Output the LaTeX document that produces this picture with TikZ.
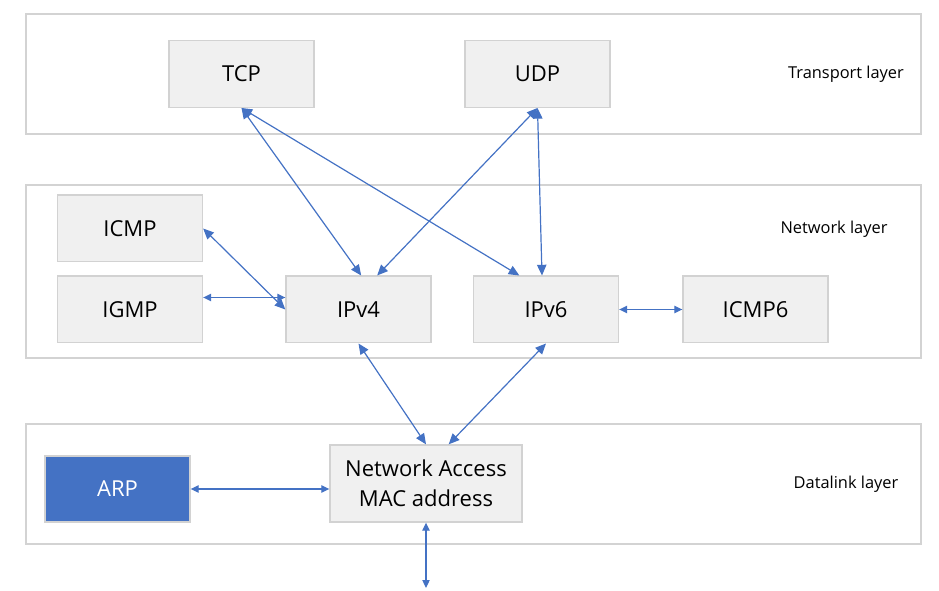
\documentclass[tikz,border=0pt]{standalone}
\usepackage{fontspec}
\setmainfont{Open Sans}
\usetikzlibrary{arrows.meta}

\definecolor{boxfill}{RGB}{240,240,240}
\definecolor{boxline}{RGB}{210,210,210}
\definecolor{layerline}{RGB}{211,211,211}
\definecolor{linkblue}{RGB}{68,114,196}

\tikzset{every picture/.style={line width=0.75pt}}
\tikzset{
  layer/.style={draw=layerline, line width=1pt, minimum width=671.25pt, minimum height=90pt, inner sep=0pt},
  proto/.style={draw=boxline, fill=boxfill, line width=1pt, minimum width=108.75pt, minimum height=50pt, inner sep=0pt, font=\fontsize{16.5}{20}\selectfont},
  layername/.style={inner sep=0.75pt, font=\fontsize{12.3}{14}\selectfont},
  link/.style={draw=linkblue, line width=0.9pt, {Triangle[length=8pt,width=7pt]}-{Triangle[length=8pt,width=7pt]}},
  shortlink/.style={link, {Triangle[length=6pt,width=5.5pt]}-{Triangle[length=6pt,width=5.5pt]}}
}

\begin{document}
\begin{tikzpicture}[x=0.75pt,y=0.75pt,yscale=-1,xscale=1]
	\useasboundingbox (0,0) rectangle (939,591);

	% Layers
	\node [layer] (transport) at (473.5,74) {};
	\node [layer, minimum height=129.75pt] (network) at (473.5,271.5) {};
	\node [layer] (datalink) at (473.5,484) {};

	% Text Node
	\node [layername] (transportname) at (846,74) {Transport layer};
	% Text Node
	\node [layername] (networkname) at (834,229) {Network layer};
	% Text Node
	\node [layername] (datalinkname) at (846,484) {Datalink layer};

	% Transport protocols
	\node [proto] (tcp) at (241.5,74) {TCP};
	\node [proto] (udp) at (537.5,74) {UDP};

	% Network protocols
	\node [proto] (icmp) at (130,228.5) {ICMP};
	\node [proto] (igmp) at (130,309.5) {IGMP};
	\node [proto] (ipv4) at (358.5,309.5) {IPv4};
	\node [proto] (ipv6) at (546,309.5) {IPv6};
	\node [proto] (icmpsix) at (755.5,309.5) {ICMP6};

	% Datalink
	\node [proto, fill=linkblue, text=white, minimum height=49.5pt] (arp) at (117.5,489) {ARP};
	\node [proto, minimum width=144pt, minimum height=57.75pt, align=center, font=\fontsize{16.5}{22.5}\selectfont] (access) at (426,483.5) {Network Access\\MAC address};
	\coordinate (wire) at (426,588);

	% Links
	\draw [link] (tcp.south) -- ([xshift=2pt]ipv4.north);
	\draw [link] (tcp.south) -- ([xshift=-20pt]ipv6.north);
	\draw [link] (udp.south) -- ([xshift=14pt]ipv4.north);
	\draw [link] (udp.south) -- ([xshift=-3pt]ipv6.north);
	\draw [link] (icmp.east) -- (ipv4.west);
	\draw [shortlink] ([yshift=-9pt]igmp.east) -- ([yshift=-9pt]ipv4.west);
	\draw [shortlink] (ipv6.east) -- (icmpsix.west);
	\draw [link] (ipv4.south) -- (access.north);
	\draw [link] (ipv6.south) -- ([xshift=17pt]access.north);
	\draw [shortlink] (arp.east) -- (access.west |- arp.east);
	\draw [shortlink] (access.south) -- (wire);

\end{tikzpicture}
\end{document}
